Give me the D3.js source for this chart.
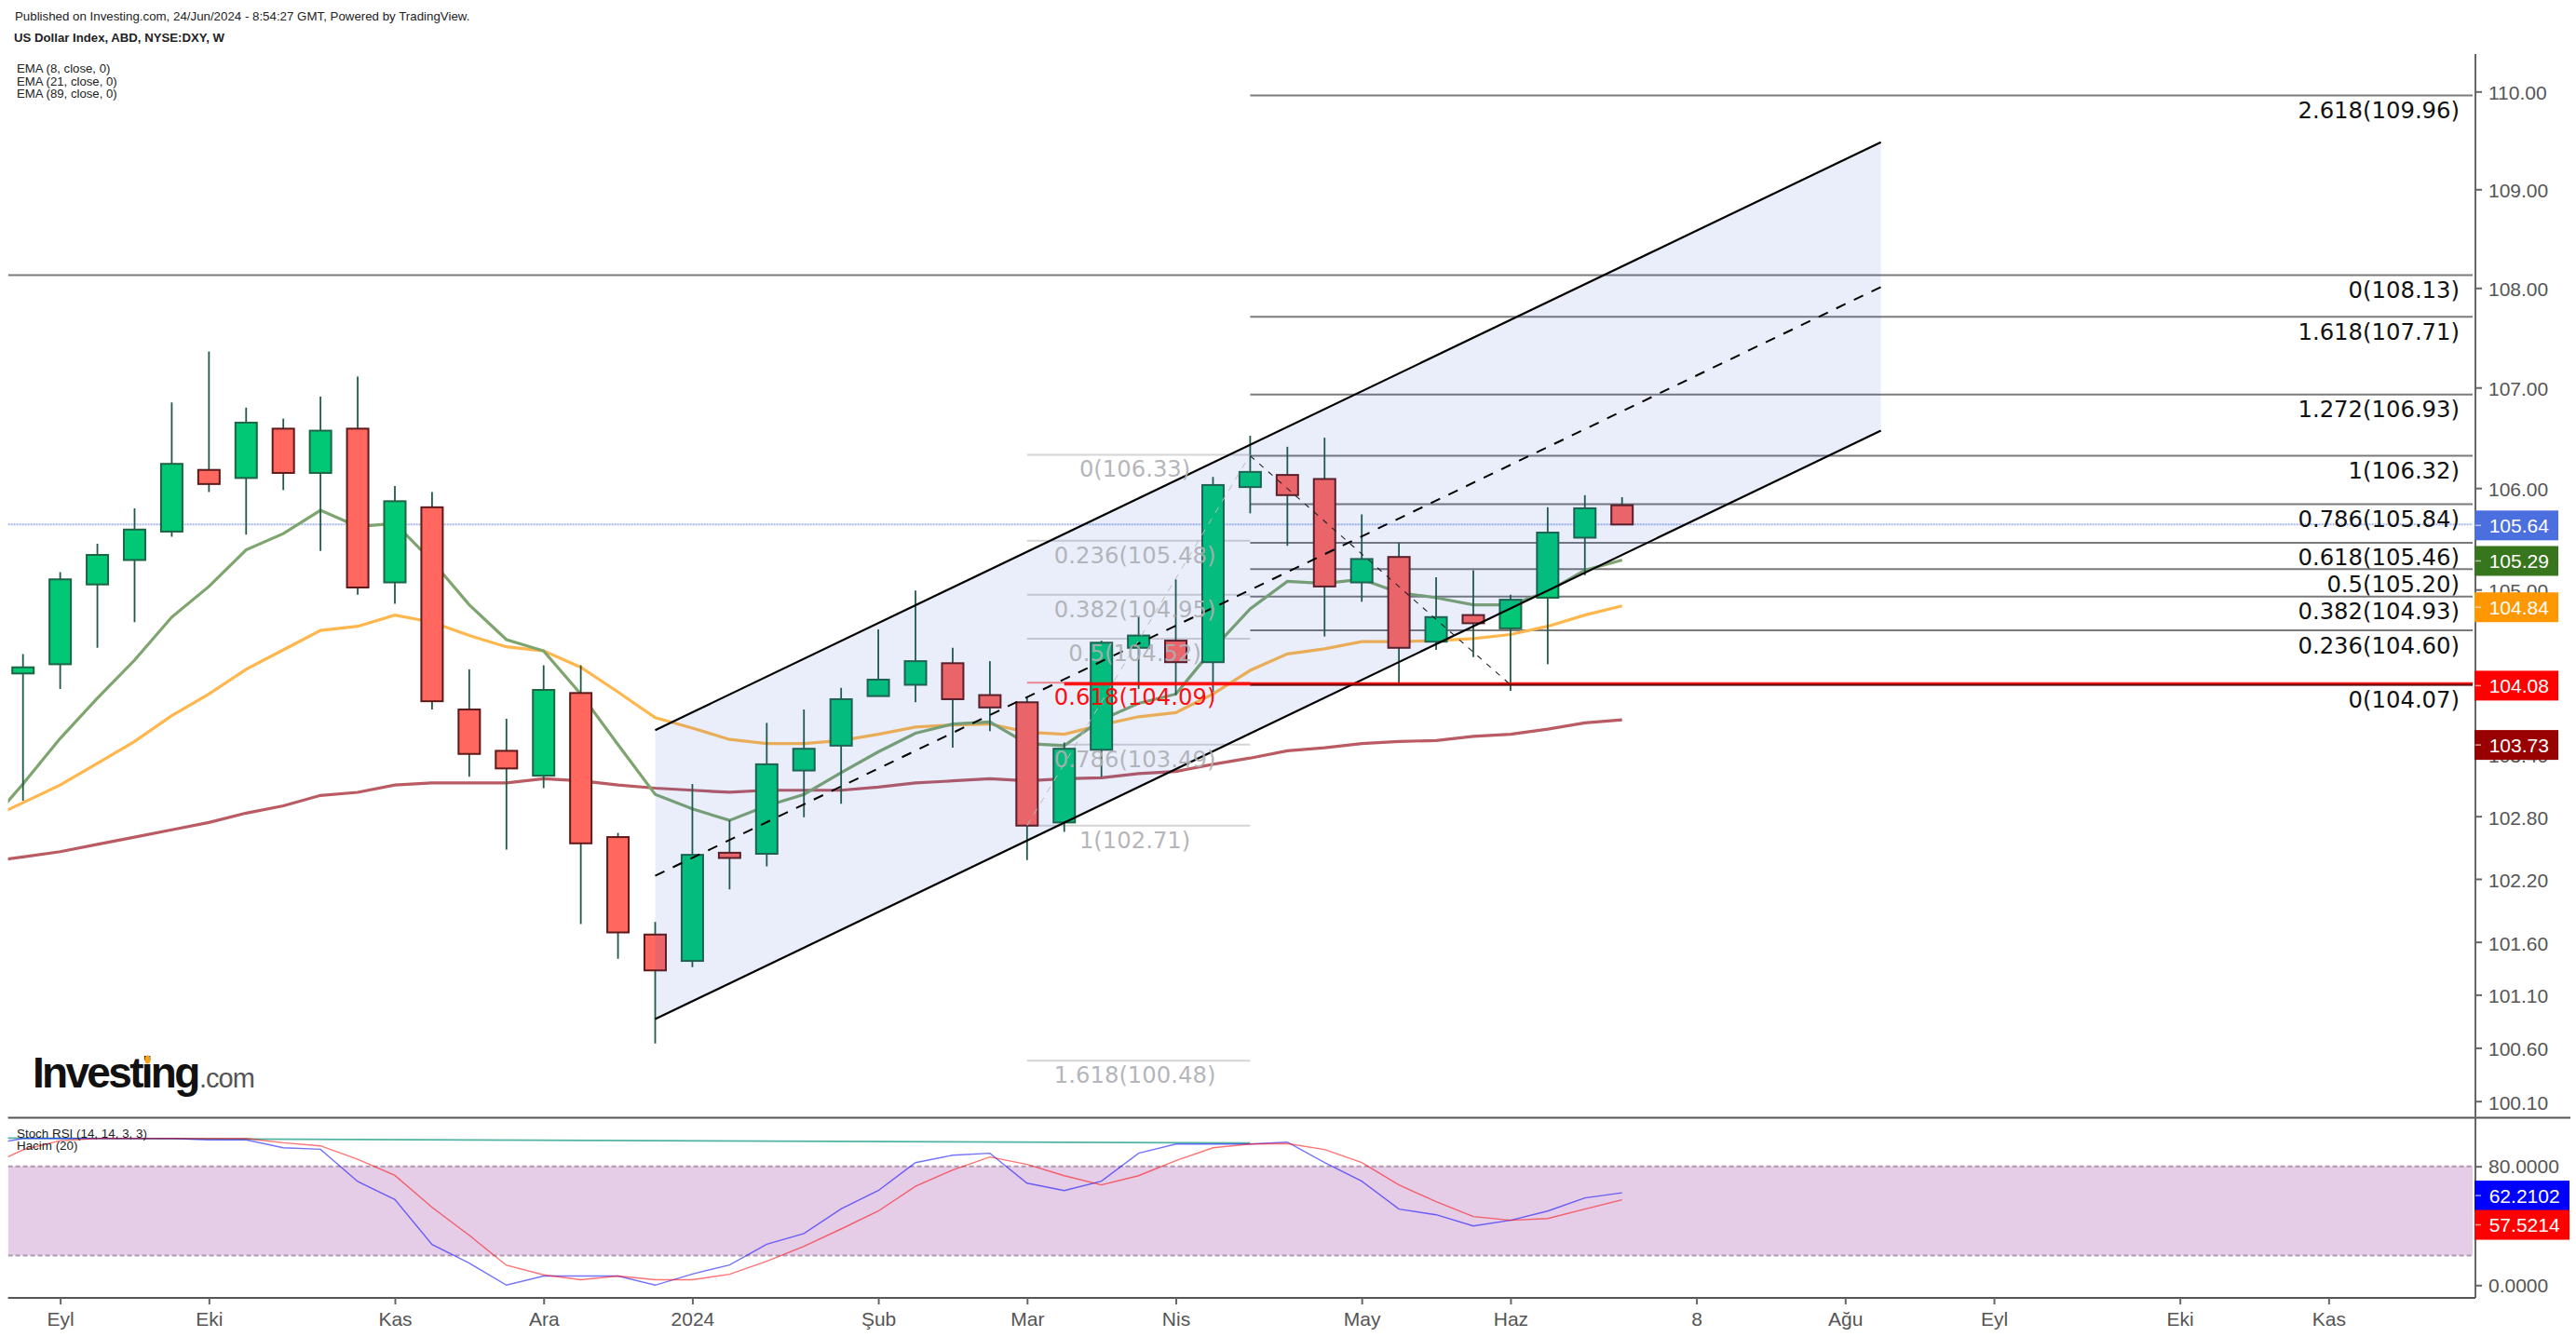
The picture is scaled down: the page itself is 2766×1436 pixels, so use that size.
<!DOCTYPE html>
<html lang="tr">
<head>
  <meta charset="UTF-8">
  <title>US Dollar Index, ABD, NYSE:DXY, W</title>
  <style>
    body { margin: 0; background: #fff; }
    svg { display: block; font-family: "Liberation Sans", Arial, sans-serif; }
    .axis text { font-size: 21px; fill: #555; font-family: "Liberation Sans", Arial, sans-serif; }
    .axis line { stroke: #666; stroke-width: 2px; }
    .axis .domain { display: none; }
    .fib { font-family: "DejaVu Sans", Verdana, sans-serif; font-size: 24.3px; }
  </style>
</head>
<body>
  <script src="https://cdnjs.cloudflare.com/ajax/libs/d3/7.8.5/d3.min.js"></script>
  <svg></svg>
  <script>
    // weekly candles, index 0 = first bar on the chart
    var opens  = [104.18,104.27,105.05,105.29,105.57,106.18,106.10,106.59,106.15,106.59,105.07,105.81,103.83,103.43,103.19,103.99,102.60,101.67,101.42,102.45,102.44,103.24,103.48,103.96,104.07,104.28,103.97,103.90,102.74,103.44,104.43,104.50,104.29,106.01,106.13,106.09,105.07,105.32,104.49,104.75,104.62,104.92,105.51,105.83];
    var closes = [104.24,105.10,105.34,105.59,106.24,106.04,106.65,106.15,106.57,105.02,105.87,103.91,103.40,103.26,104.02,102.54,101.69,101.33,102.43,102.40,103.30,103.45,103.93,104.12,104.30,103.93,103.85,102.71,103.45,104.48,104.55,104.29,106.03,106.16,105.93,105.03,105.30,104.43,104.73,104.67,104.90,105.56,105.80,105.64];
    var highs  = [104.37,105.17,105.45,105.80,106.85,107.36,106.80,106.69,106.91,107.11,106.02,105.96,104.22,103.74,104.26,104.26,102.64,101.79,103.11,102.76,103.70,103.83,104.04,104.61,104.99,104.43,104.30,103.95,103.51,104.50,104.73,105.10,106.11,106.52,106.41,106.50,105.74,105.46,105.12,105.19,104.95,105.81,105.93,105.91];
    var lows   = [102.95,104.03,104.43,104.68,105.52,105.96,105.54,105.98,105.38,104.95,104.86,103.83,103.18,102.48,103.07,101.77,101.44,100.64,101.36,102.10,102.32,102.79,102.92,103.96,103.90,103.46,103.62,102.38,102.65,103.18,104.03,103.97,104.00,105.75,105.43,104.54,104.88,104.08,104.41,104.34,104.01,104.27,105.14,105.64];

    // indicator lines start one bar before the first candle, the left edge clips them
    var ema8  = [102.70,103.11,103.55,103.94,104.31,104.73,105.03,105.39,105.55,105.78,105.62,105.65,105.28,104.85,104.51,104.40,103.98,103.49,103.01,102.87,102.76,102.90,103.01,103.22,103.42,103.60,103.69,103.71,103.50,103.48,103.73,103.89,103.98,104.42,104.81,105.08,105.06,105.10,104.97,104.92,104.85,104.85,104.98,105.19,105.29];
    var ema21 = [102.76,102.93,103.10,103.31,103.52,103.77,103.98,104.22,104.41,104.60,104.64,104.75,104.68,104.55,104.44,104.40,104.24,104.00,103.75,103.65,103.54,103.50,103.50,103.53,103.59,103.66,103.68,103.69,103.61,103.59,103.68,103.76,103.80,103.98,104.21,104.37,104.42,104.49,104.49,104.50,104.52,104.56,104.64,104.75,104.84];
    var ema89 = [102.36,102.41,102.46,102.53,102.60,102.67,102.74,102.83,102.90,103.00,103.03,103.10,103.12,103.12,103.12,103.16,103.14,103.10,103.07,103.05,103.03,103.05,103.05,103.05,103.08,103.12,103.14,103.16,103.14,103.16,103.17,103.21,103.23,103.30,103.36,103.43,103.46,103.50,103.52,103.53,103.57,103.59,103.64,103.70,103.73];
    var stochK = [94.2,98.8,98.8,98.8,98.8,98.8,97.8,97.8,92.5,91.5,69.8,57.7,27.4,14.8,0,6.1,6.1,6.1,0,7.5,13.6,27.6,34.7,51.4,63.7,82.5,87.5,88.8,68.7,63.7,70,88.8,95,95,95,96.3,82.5,70,51.2,47.4,39.9,43.7,49.9,58.7,62.21];
    var stochD = [79.6,91.1,97.3,98.8,98.8,98.8,98.8,98.8,95.9,93.8,84.8,73.9,52.4,33.6,13.4,6.9,3.6,6.1,3.6,3.6,7.3,16.1,26.1,37.8,49.9,66.6,77.5,86.3,81.3,73.7,67.5,73.7,83.8,92.5,95,95.3,91.3,82.5,67.5,56.2,46.2,43.7,44.9,51.2,57.52];
    var hacimBars = [-1, 33];
    var hacimMA = [99.1, 95.7];

    // drawings
    var channelBars = [17, 49.96];
    var channelUpper = [103.63, 109.48];
    var channelMid = [102.23, 108.01];
    var channelLower = [100.87, 106.57];

    var leftFibRatios = ['0','0.236','0.382','0.5','0.618','0.786','1','1.618'];
    var leftFibPrices = [106.33,105.48,104.95,104.52,104.09,103.49,102.71,100.48];
    var leftFibBars = [27, 33];
    var leftTrendPrices = [102.71, 106.33];

    var rightFibRatios = ['2.618','1.618','1.272','1','0.786','0.618','0.5','0.382','0.236','0'];
    var rightFibPrices = [109.96,107.71,106.93,106.32,105.84,105.46,105.20,104.93,104.60,104.07];
    var rightTrendBars = [33, 40];
    var rightTrendPrices = [106.32, 104.07];

    var topLevelPrice = 108.13;
    var supportPrice = 104.08;
    var supportBar = 28;
    var lastPrice = 105.64;

    // axes
    var priceTicks = [110,109,108,107,106,105,103.4,102.8,102.2,101.6,101.1,100.6,100.1];
    var stochTicks = [80, 0];
    var timeTickBars = [1,5,10,14,18,23,27,31,36,40,45,49,53,58,62];
    var timeTickLabels = ['Eyl','Eki','Kas','Ara','2024','Şub','Mar','Nis','May','Haz','8','Ağu','Eyl','Eki','Kas'];

    var priceBoxValues = [105.64,105.29,104.84,104.08,103.73];
    var priceBoxColors = ['#4c6fe0','#38761d','#ff9800','#ff0000','#990000'];
    var priceBoxShift = [1,1,1.5,2,27];
    var stochBoxValues = [62.2102,57.5214];
    var stochBoxColors = ['#0000ff','#ff0000'];
    var stochBoxShift = [3,27];

    var width = 2766, height = 1436;
    var left = 8.6, right = 2655, axisX = 2658;
    var paneBottom = 1200.5, chartBottom = 1394;

    var svg = d3.select('svg').attr('width', width).attr('height', height);

    var x = d3.scaleLinear().domain([0, 43]).range([24.7, 1741.7]);
    var y = d3.scaleLog().domain([110, 100.1]).range([98.3, 1182.7]);
    var yStoch = d3.scaleLinear().domain([0, 80]).range([1380.3, 1252.7]);

    var defs = svg.append('defs');
    defs.append('clipPath').attr('id', 'mainClip').append('rect')
      .attr('x', left).attr('y', 0).attr('width', right - left).attr('height', paneBottom);
    defs.append('clipPath').attr('id', 'stochClip').append('rect')
      .attr('x', left).attr('y', paneBottom).attr('width', right - left).attr('height', chartBottom - paneBottom);

    // horizontal levels behind the candles
    var main = svg.append('g').attr('clip-path', 'url(#mainClip)');

    function hline(g, yPos, x1, x2, color, w, opacity) {
      return g.append('line')
        .attr('x1', x1).attr('x2', x2).attr('y1', yPos).attr('y2', yPos)
        .attr('stroke', color).attr('stroke-width', w).attr('stroke-opacity', opacity);
    }

    hline(main, y(lastPrice), left, right, '#4c6fe0', 2, 0.5).attr('stroke-dasharray', '2 1');
    hline(main, y(topLevelPrice), left, right, '#000', 2, 0.52);

    rightFibPrices.forEach(function(p) {
      hline(main, y(p), x(leftFibBars[1]), right, '#000', 2, 0.52);
    });
    leftFibPrices.forEach(function(p, i) {
      if (leftFibRatios[i] === '0.618') {
        hline(main, y(p), x(leftFibBars[0]), x(leftFibBars[1]), '#ff0000', 2, 0.45);
      } else {
        hline(main, y(p), x(leftFibBars[0]), x(leftFibBars[1]), '#000', 2, 0.17);
      }
    });

    // EMA lines
    function barLine(scale) {
      return d3.line()
        .x(function(d, i) { return x(i - 1); })
        .y(function(d) { return scale(d); });
    }
    [[ema89, '#ba5b63'], [ema21, '#ffb74d'], [ema8, '#7ea56e']].forEach(function(s) {
      main.append('path')
        .attr('d', barLine(y)(s[0]))
        .attr('fill', 'none').attr('stroke', s[1]).attr('stroke-width', 3.2);
    });

    // candles
    var candles = main.selectAll('g.candle').data(opens).enter().append('g').attr('class', 'candle');
    candles.append('line')
      .attr('x1', function(d, i) { return x(i); })
      .attr('x2', function(d, i) { return x(i); })
      .attr('y1', function(d, i) { return y(highs[i]); })
      .attr('y2', function(d, i) { return y(lows[i]); })
      .attr('stroke', '#215a44').attr('stroke-width', 1.8);
    candles.append('rect')
      .attr('x', function(d, i) { return x(i) - 11.5; })
      .attr('width', 23)
      .attr('y', function(d, i) { return y(Math.max(opens[i], closes[i])); })
      .attr('height', function(d, i) { return y(Math.min(opens[i], closes[i])) - y(Math.max(opens[i], closes[i])); })
      .attr('fill', function(d, i) { return closes[i] >= opens[i] ? '#00c875' : '#ff675f'; })
      .attr('stroke', function(d, i) { return closes[i] >= opens[i] ? '#1e6446' : '#5e1a1a'; })
      .attr('stroke-width', 2);

    // parallel channel, tints everything under it
    var channelPts = [
      [channelBars[0], channelUpper[0]], [channelBars[1], channelUpper[1]],
      [channelBars[1], channelLower[1]], [channelBars[0], channelLower[0]]
    ];
    var pricePoint = d3.line().x(function(d) { return x(d[0]); }).y(function(d) { return y(d[1]); });
    main.append('path')
      .attr('d', pricePoint(channelPts) + 'Z')
      .attr('fill', '#2458d0').attr('fill-opacity', 0.1);
    [channelUpper, channelLower, channelMid].forEach(function(s, i) {
      var path = main.append('path')
        .attr('d', pricePoint([[channelBars[0], s[0]], [channelBars[1], s[1]]]))
        .attr('fill', 'none').attr('stroke', '#000').attr('stroke-width', 2.2);
      if (i === 2) path.attr('stroke-width', 2).attr('stroke-dasharray', '11 10');
    });

    // support line on top of candles
    hline(main, y(supportPrice), x(supportBar), right, '#ff0000', 3.5, 0.9);
    hline(main, y(rightFibPrices[rightFibPrices.length - 1]), x(leftFibBars[1]), right, '#000', 2, 0.52);

    // fib trend lines
    main.append('path')
      .attr('d', pricePoint([[leftFibBars[0], leftTrendPrices[0]], [leftFibBars[1], leftTrendPrices[1]]]))
      .attr('fill', 'none').attr('stroke', '#bbb').attr('stroke-width', 1).attr('stroke-dasharray', '7 7');
    main.append('path')
      .attr('d', pricePoint([[rightTrendBars[0], rightTrendPrices[0]], [rightTrendBars[1], rightTrendPrices[1]]]))
      .attr('fill', 'none').attr('stroke', '#222').attr('stroke-width', 1.1).attr('stroke-dasharray', '6 7');

    // fib labels
    leftFibPrices.forEach(function(p, i) {
      var red = leftFibRatios[i] === '0.618';
      svg.append('text').attr('class', 'fib')
        .attr('x', x(30) - 4).attr('y', y(p) + 24)
        .attr('text-anchor', 'middle')
        .attr('fill', red ? '#ff0000' : '#adafb4')
        .attr('fill-opacity', red ? 0.95 : 0.92)
        .text(leftFibRatios[i] + '(' + p.toFixed(2) + ')');
    });
    rightFibPrices.forEach(function(p, i) {
      svg.append('text').attr('class', 'fib')
        .attr('x', 2641).attr('y', y(p) + 24.5)
        .attr('text-anchor', 'end').attr('fill', '#111')
        .text(rightFibRatios[i] + '(' + p.toFixed(2) + ')');
    });
    svg.append('text').attr('class', 'fib')
      .attr('x', 2641).attr('y', y(topLevelPrice) + 24.5)
      .attr('text-anchor', 'end').attr('fill', '#111')
      .text('0(' + topLevelPrice.toFixed(2) + ')');

    // stoch pane
    var stoch = svg.append('g').attr('clip-path', 'url(#stochClip)');
    stoch.append('rect')
      .attr('x', left).attr('width', right - left)
      .attr('y', yStoch(80)).attr('height', yStoch(20) - yStoch(80))
      .attr('fill', '#e5cde7');
    [80, 20].forEach(function(v) {
      hline(stoch, yStoch(v), left, right, '#a98fa8', 2, 0.9).attr('stroke-dasharray', '5 3');
    });
    stoch.append('path')
      .attr('d', d3.line().x(function(d, i) { return x(hacimBars[i]); }).y(function(d) { return yStoch(d); })(hacimMA))
      .attr('fill', 'none').attr('stroke', '#26a08c').attr('stroke-width', 1.8).attr('stroke-opacity', 0.8);
    stoch.append('path')
      .attr('d', barLine(yStoch)(stochK))
      .attr('fill', 'none').attr('stroke', '#0000ff').attr('stroke-opacity', 0.55).attr('stroke-width', 1.4);
    stoch.append('path')
      .attr('d', barLine(yStoch)(stochD))
      .attr('fill', 'none').attr('stroke', '#ff0000').attr('stroke-opacity', 0.55).attr('stroke-width', 1.4);

    // frame
    hline(svg, paneBottom, left, 2760, '#555', 2, 1);
    hline(svg, chartBottom, left, axisX, '#555', 2, 1);
    svg.append('line')
      .attr('x1', axisX).attr('x2', axisX).attr('y1', 58).attr('y2', chartBottom)
      .attr('stroke', '#666').attr('stroke-width', 2);

    // axes
    svg.append('g').attr('class', 'axis')
      .attr('transform', 'translate(' + axisX + ',0)')
      .call(d3.axisRight(y).tickValues(priceTicks).tickFormat(d3.format('.2f')).tickSize(7).tickPadding(7))
      .selectAll('text').attr('dy', '0.4em');
    svg.append('g').attr('class', 'axis')
      .attr('transform', 'translate(' + axisX + ',0)')
      .call(d3.axisRight(yStoch).tickValues(stochTicks).tickFormat(d3.format('.4f')).tickSize(7).tickPadding(7));
    svg.append('g').attr('class', 'axis')
      .attr('transform', 'translate(0,' + chartBottom + ')')
      .call(d3.axisBottom(x).tickValues(timeTickBars)
        .tickFormat(function(d, i) { return timeTickLabels[i]; })
        .tickSize(7).tickPadding(8));

    // last value boxes
    function valueBox(center, w, color, label) {
      svg.append('rect')
        .attr('x', axisX - 1).attr('y', center - 16).attr('width', w).attr('height', 32)
        .attr('fill', color);
      svg.append('line')
        .attr('x1', axisX).attr('x2', axisX + 6).attr('y1', center).attr('y2', center)
        .attr('stroke', '#fff').attr('stroke-opacity', 0.6).attr('stroke-width', 1.5);
      svg.append('text')
        .attr('x', 2672.7).attr('y', center + 7.5)
        .attr('fill', '#fff').attr('font-size', 21)
        .text(label);
    }
    priceBoxValues.forEach(function(v, i) {
      valueBox(y(v) + priceBoxShift[i], 90, priceBoxColors[i], v.toFixed(2));
    });
    stochBoxValues.forEach(function(v, i) {
      valueBox(yStoch(v) + stochBoxShift[i], 102, stochBoxColors[i], v.toFixed(4));
    });

    // header and legends
    function note(txt, tx, ty, size, weight) {
      svg.append('text').attr('x', tx).attr('y', ty)
        .attr('font-size', size).attr('font-weight', weight || 'normal')
        .attr('fill', '#222').text(txt);
    }
    note('Published on Investing.com, 24/Jun/2024 - 8:54:27 GMT, Powered by TradingView.', 16, 22, 13.3);
    note('US Dollar Index, ABD, NYSE:DXY, W', 15, 45, 13.2, 'bold');
    note('EMA (8, close, 0)', 18, 78, 13.2);
    note('EMA (21, close, 0)', 18, 92, 13.2);
    note('EMA (89, close, 0)', 18, 105, 13.2);
    note('Stoch RSI (14, 14, 3, 3)', 18, 1222, 13.4);
    note('Hacim (20)', 18, 1235, 13.4);

    // logo
    svg.append('text').attr('x', 35).attr('y', 1168)
      .attr('font-size', 46).attr('font-weight', 'bold').attr('letter-spacing', -2.7)
      .attr('fill', '#111').text('Investing');
    svg.append('text').attr('x', 214).attr('y', 1168)
      .attr('font-size', 29).attr('letter-spacing', -1)
      .attr('fill', '#555').text('.com');
    svg.append('ellipse').attr('cx', 158.5).attr('cy', 1138).attr('rx', 3).attr('ry', 4.5)
      .attr('fill', '#f9a11b');
  </script>
</body>
</html>
